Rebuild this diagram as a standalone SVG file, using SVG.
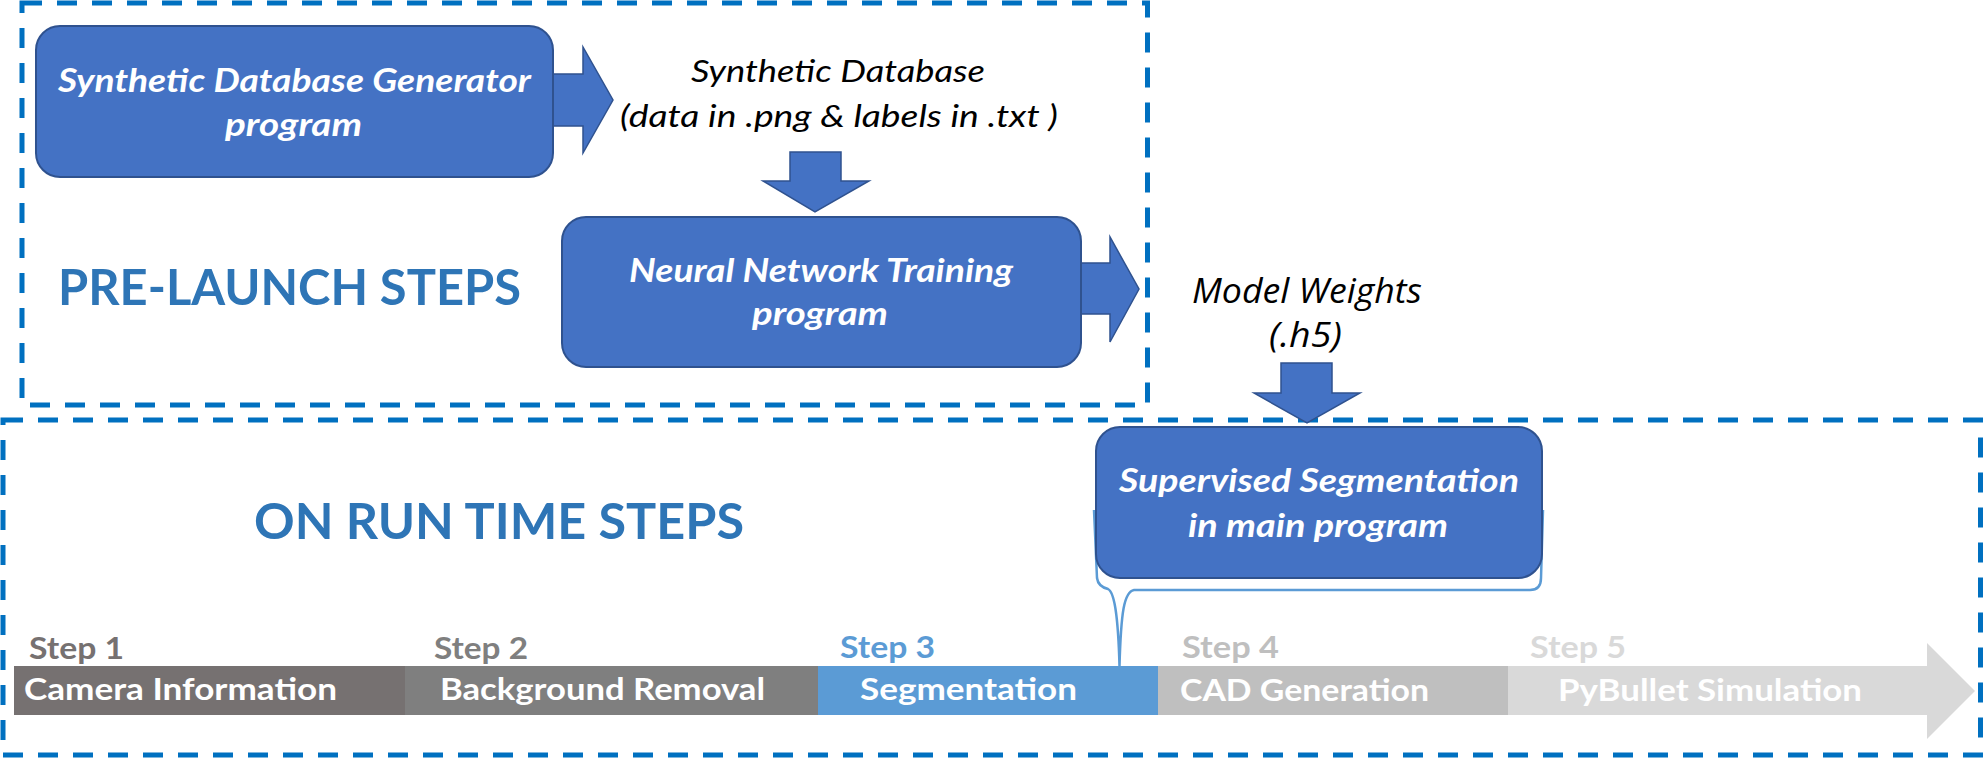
<svg xmlns="http://www.w3.org/2000/svg" width="1983" height="759" viewBox="0 0 1983 759">
<style>
.dash{fill:none;stroke:#0070C0;stroke-width:5;stroke-dasharray:20 15}
.node{fill:#4472C4;stroke:#2F528F;stroke-width:2}
.arr{fill:#4472C4;stroke:#2F528F;stroke-width:1.5}
.wt{font-family:Lato,"Open Sans","Liberation Sans",sans-serif;font-weight:bold;font-style:italic;font-size:33px;fill:#FFFFFF;text-anchor:middle}
.bt{font-family:Lato,"Open Sans","Liberation Sans",sans-serif;font-style:italic;font-size:31px;fill:#000000;text-anchor:middle}
.mw{font-family:"Open Sans","Liberation Sans",sans-serif;font-style:italic;font-size:34px;fill:#000000;text-anchor:middle}
.hd{font-family:Lato,"Open Sans","Liberation Sans",sans-serif;font-weight:bold;font-size:50px;fill:#2E75B6}
.st{font-family:Lato,"Open Sans","Liberation Sans",sans-serif;font-weight:bold;font-size:31px}
.bl{font-family:Lato,"Open Sans","Liberation Sans",sans-serif;font-weight:bold;font-size:31px;fill:#FFFFFF}
</style>
<rect width="1983" height="759" fill="#FFFFFF"/>
<g id="prelaunch-frame">
<rect class="dash" x="22" y="3" width="1125.5" height="402"/>
<text class="hd" x="58" y="305" textLength="463" lengthAdjust="spacingAndGlyphs">PRE-LAUNCH STEPS</text>
</g>
<g id="runtime-frame">
<rect class="dash" x="3" y="420" width="1977.5" height="335"/>
<text class="hd" x="254" y="539" textLength="490" lengthAdjust="spacingAndGlyphs">ON RUN TIME STEPS</text>
</g>
<g id="connectors">
<polygon class="arr" points="553,74 583,74 583,47 613,100 583,153 583,126 553,126"/>
<polygon class="arr" points="790,152 841,152 841,181 869,181 815,212 763,181 790,181"/>
<polygon class="arr" points="1081,263 1110,263 1110,237 1139,289 1110,342 1110,314 1081,314"/>
<polygon class="arr" points="1281,363 1332,363 1332,393 1360,393 1307,423 1254,393 1281,393"/>
<path d="M1094 510 L1097 578 C1098 586 1104 588 1108 589 C1114 592 1118 612 1119.5 666 C1121 612 1124 592 1134 590 L1530 590 C1538 590 1541 585 1541 578 L1543 510" fill="none" stroke="#5B9BD5" stroke-width="2.5"/>
</g>
<g id="generator">
<rect class="node" x="36" y="26" width="517" height="151" rx="24"/>
<text class="wt" x="294.5" y="92" textLength="473" lengthAdjust="spacingAndGlyphs">Synthetic Database Generator</text>
<text class="wt" x="293.5" y="136" textLength="137" lengthAdjust="spacingAndGlyphs">program</text>
</g>
<g id="synthetic-database">
<text class="bt" x="838" y="82" textLength="294" lengthAdjust="spacingAndGlyphs">Synthetic Database</text>
<text class="bt" x="839" y="127" textLength="438" lengthAdjust="spacingAndGlyphs">(data in .png &amp; labels in .txt )</text>
</g>
<g id="training">
<rect class="node" x="562" y="217" width="519" height="150" rx="24"/>
<text class="wt" x="821" y="282" textLength="384" lengthAdjust="spacingAndGlyphs">Neural Network Training</text>
<text class="wt" x="820" y="325" textLength="136" lengthAdjust="spacingAndGlyphs">program</text>
</g>
<g id="model-weights">
<text class="mw" x="1307" y="303" textLength="230" lengthAdjust="spacingAndGlyphs">Model Weights</text>
<text class="mw" x="1305.5" y="347" textLength="73" lengthAdjust="spacingAndGlyphs">(.h5)</text>
</g>
<g id="supervised-segmentation">
<rect class="node" x="1096" y="427" width="446" height="151" rx="24"/>
<text class="wt" x="1319" y="492" textLength="400" lengthAdjust="spacingAndGlyphs">Supervised Segmentation</text>
<text class="wt" x="1318" y="537" textLength="260" lengthAdjust="spacingAndGlyphs">in main program</text>
</g>
<g id="step1">
<rect x="14" y="666" width="391" height="49" fill="#767171"/>
<text class="st" x="29" y="659" fill="#767171" textLength="95" lengthAdjust="spacingAndGlyphs">Step 1</text>
<text class="bl" x="24" y="700" textLength="313" lengthAdjust="spacingAndGlyphs">Camera Information</text>
</g>
<g id="step2">
<rect x="405" y="666" width="413" height="49" fill="#7F7F7F"/>
<text class="st" x="434" y="659" fill="#7F7F7F" textLength="94" lengthAdjust="spacingAndGlyphs">Step 2</text>
<text class="bl" x="440" y="700" textLength="325" lengthAdjust="spacingAndGlyphs">Background Removal</text>
</g>
<g id="step3">
<rect x="818" y="666" width="340" height="49" fill="#5B9BD5"/>
<text class="st" x="840" y="658" fill="#5B9BD5" textLength="95" lengthAdjust="spacingAndGlyphs">Step 3</text>
<text class="bl" x="860" y="700" textLength="217" lengthAdjust="spacingAndGlyphs">Segmentation</text>
</g>
<g id="step4">
<rect x="1158" y="666" width="350" height="49" fill="#BFBFBF"/>
<text class="st" x="1182" y="658" fill="#BFBFBF" textLength="97" lengthAdjust="spacingAndGlyphs">Step 4</text>
<text class="bl" x="1180" y="701" textLength="249" lengthAdjust="spacingAndGlyphs">CAD Generation</text>
</g>
<g id="step5">
<polygon points="1508,666 1927,666 1927,643 1975,691 1927,739 1927,715 1508,715" fill="#D9D9D9"/>
<text class="st" x="1530" y="658" fill="#D9D9D9" textLength="96" lengthAdjust="spacingAndGlyphs">Step 5</text>
<text class="bl" x="1558" y="701" textLength="304" lengthAdjust="spacingAndGlyphs">PyBullet Simulation</text>
</g>
</svg>
